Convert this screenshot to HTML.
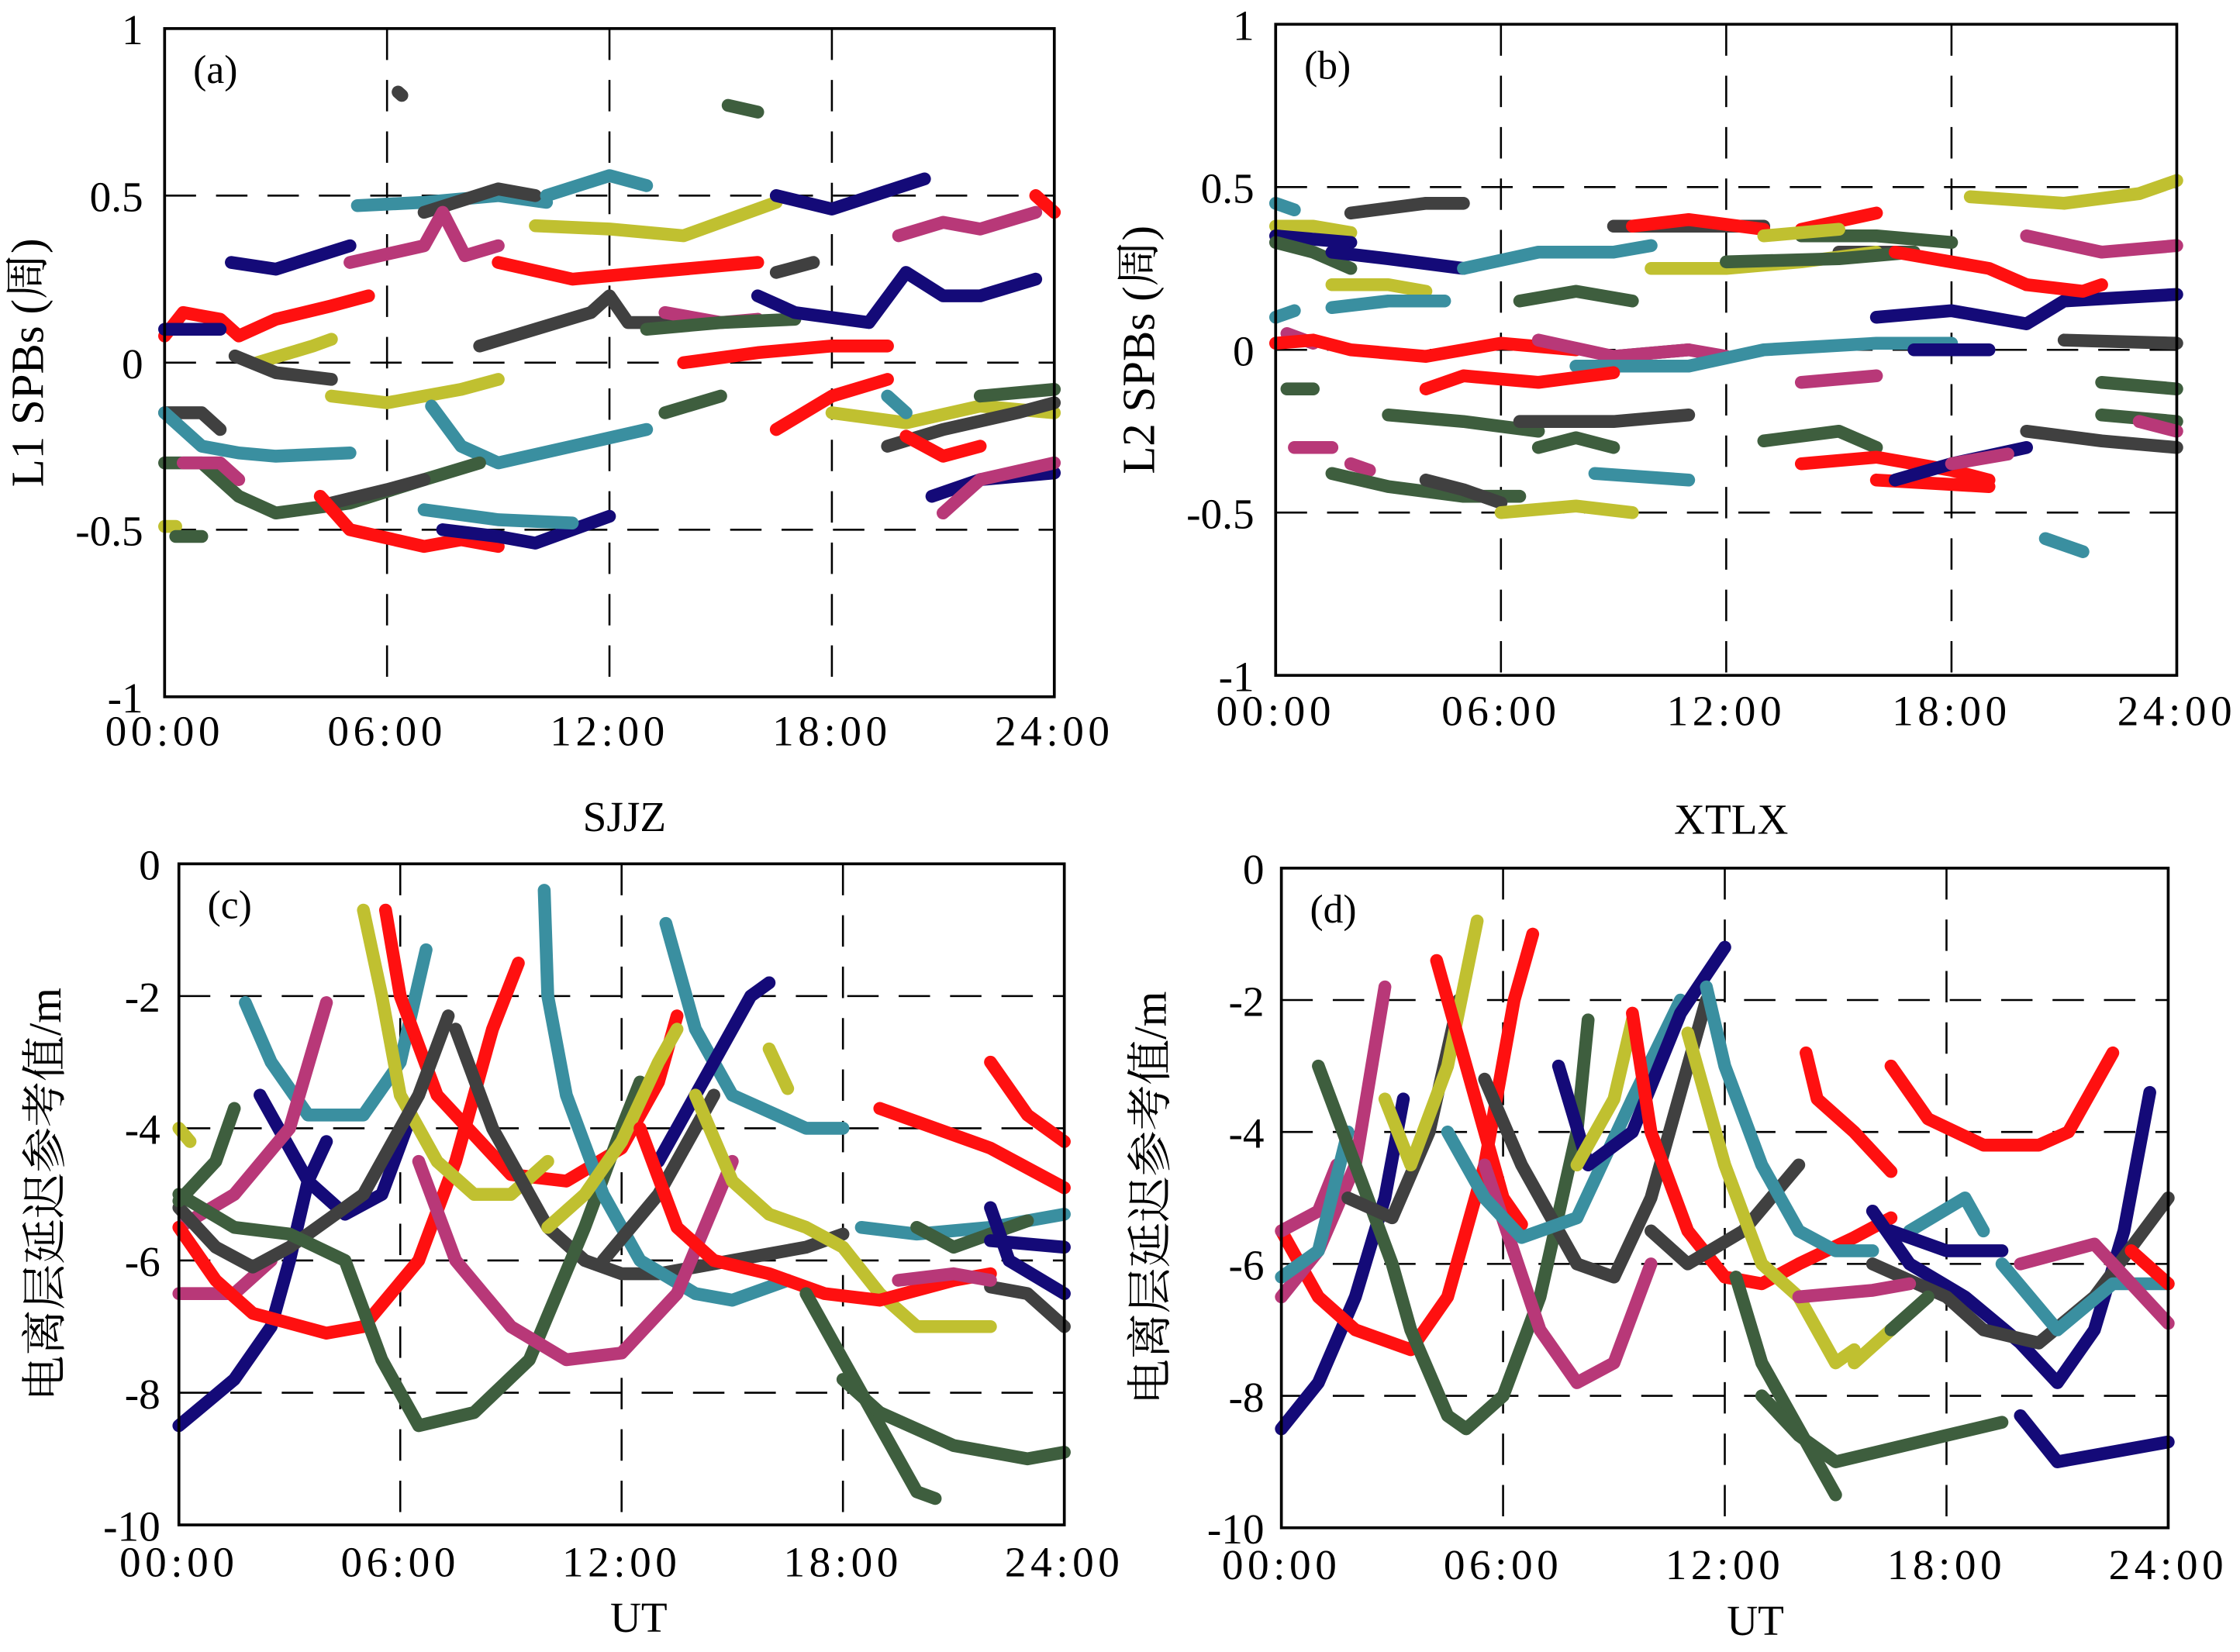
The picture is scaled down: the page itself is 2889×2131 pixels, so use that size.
<!DOCTYPE html>
<html><head><meta charset="utf-8"><style>
html,body{margin:0;padding:0;background:#fff}
svg{display:block}
text{font-family:"Liberation Serif","Noto Serif CJK SC",serif;fill:#000}
</style></head><body>
<svg id="fig" width="2889" height="2131" viewBox="0 0 1568 1157" xmlns="http://www.w3.org/2000/svg"></svg>
<script>
const C={n:'#140a78',r:'#ff1010',t:'#3a8fa0',y:'#c0c030',m:'#b83878',g:'#404040',e:'#3e5e3e'};
// Panel (a) L1 SPBs
const segHoursA=[[1.8,3,5],[5.2,7,9,10.3],[7,9,10],[10.3,12,13],[10,12,14,16.5],[15.2,16],[16.5,18,20.5],[19.8,21,22,23.5],[23.5,24],[5,7,7.5,8.1,9],[9,11,13,16],[16.5,17.5],[0,0.5,1.5,2,3,4.5,5.5],[0,1.5],[2.5,4,4.5],[1.9,3,4.5],[8.5,10,11.5,12,12.5,14],[13.5,15,16],[13,15,17],[16,17,19,20,21,22,23.5],[14,16,18,19.5],[16.5,18,19.5],[4.5,6,8,9],[13.5,15],[0,1,1.5],[0,1,2,3,5],[7.2,8,9,11,13],[0,1,2,3,5,7,8.5],[4.5,6,7],[0.5,1.5,2],[4.2,5,7,8,9],[7.5,9,10,12],[7,9,11],[0,0.3],[0.3,1],[18,20,22,24],[19.5,21,23,24],[20,21,22],[22,24],[20.7,22,24],[21,22,24],[19.5,20],[6.3,6.4]];
const segValsA=[[0.3,0.28,0.35],[0.47,0.48,0.5,0.48],[0.45,0.52,0.5],[0.5,0.56,0.53],[0.41,0.4,0.38,0.48],[0.77,0.75],[0.5,0.46,0.55],[0.38,0.42,0.4,0.45],[0.5,0.45],[0.3,0.35,0.45,0.32,0.35],[0.3,0.25,0.27,0.3],[0.27,0.3],[0.08,0.15,0.13,0.08,0.13,0.17,0.2],[0.1,0.1],[0,0.05,0.07],[0.02,-0.03,-0.05],[0.05,0.1,0.15,0.2,0.12,0.12],[0.15,0.12,0.13],[0.1,0.12,0.13],[0.2,0.15,0.12,0.27,0.2,0.2,0.25],[0,0.03,0.05,0.05],[-0.2,-0.1,-0.05],[-0.1,-0.12,-0.08,-0.05],[-0.15,-0.1],[-0.15,-0.15,-0.2],[-0.15,-0.25,-0.27,-0.28,-0.27],[-0.13,-0.25,-0.3,-0.25,-0.2],[-0.3,-0.3,-0.4,-0.45,-0.42,-0.35,-0.3],[-0.42,-0.38,-0.35],[-0.3,-0.3,-0.35],[-0.4,-0.5,-0.55,-0.53,-0.55],[-0.5,-0.52,-0.54,-0.46],[-0.44,-0.47,-0.48],[-0.49,-0.49],[-0.52,-0.52],[-0.15,-0.18,-0.13,-0.15],[-0.25,-0.2,-0.15,-0.12],[-0.22,-0.28,-0.25],[-0.1,-0.08],[-0.4,-0.35,-0.33],[-0.45,-0.35,-0.3],[-0.1,-0.15],[0.81,0.8]];
const segColA=['n','t','g','t','y','e','n','m','r','m','r','g','r','n','y','g','g','m','e','n','r','r','y','e','g','t','t','e','g','m','r','n','t','y','e','y','g','r','e','n','m','t','g'];
// Panel (b) L2 SPBs
const segHoursB=[[2,4,5],[0,0.5],[0,1,2],[0,2],[0,1,2],[1.5,3,5],[5,7,9,10],[9,12,13],[9.5,11,13],[14,16],[14,16,18],[15,17],[18.5,21,23,24],[20,22,24],[13,15],[10,12,14,16],[12,15,17],[16.5,19,20],[16,18,20,21,24],[20,21.5,22],[1.5,3,4],[1.5,3,4.5],[6.5,8,9.5],[0,0.5],[0.3,1],[0,1,2,4,6,8],[9,11],[7,9,11,12],[8,11,13,16,18],[4,5,7,9],[14,16],[17,19],[21,24],[22,24],[0.3,1],[3,5,7],[6.5,9,11],[7,8,9],[13,15,16],[8.5,11],[14,16,18,19],[16,19],[16.5,18,20],[18,19.5],[20,22,24],[22,24],[23,24],[0.5,1.5],[2,2.5],[1.5,3,5,6.5],[4,5,6],[6,8,9.5],[20.5,21.5]];
const segValsB=[[0.42,0.45,0.45],[0.45,0.43],[0.38,0.38,0.36],[0.35,0.33],[0.33,0.3,0.25],[0.3,0.28,0.25],[0.25,0.3,0.3,0.32],[0.38,0.38,0.38],[0.38,0.4,0.37],[0.37,0.42],[0.35,0.35,0.33],[0.3,0.3],[0.47,0.45,0.48,0.52],[0.35,0.3,0.32],[0.35,0.37],[0.25,0.25,0.27,0.3],[0.27,0.28,0.3],[0.3,0.25,0.2],[0.1,0.12,0.08,0.15,0.17],[0.2,0.18,0.2],[0.2,0.2,0.18],[0.13,0.15,0.15],[0.15,0.18,0.15],[0.1,0.12],[0.05,0.02],[0.02,0.03,0,-0.02,0.02,0],[-0.02,0],[0.03,-0.02,0,-0.02],[-0.05,-0.05,0,0.02,0.02],[-0.12,-0.08,-0.1,-0.07],[-0.1,-0.08],[0,0],[0.03,0.02],[-0.1,-0.12],[-0.12,-0.12],[-0.2,-0.22,-0.25],[-0.22,-0.22,-0.2],[-0.3,-0.27,-0.3],[-0.28,-0.25,-0.3],[-0.38,-0.4],[-0.35,-0.33,-0.37,-0.4],[-0.4,-0.42],[-0.4,-0.35,-0.3],[-0.35,-0.32],[-0.25,-0.28,-0.3],[-0.2,-0.22],[-0.22,-0.25],[-0.3,-0.3],[-0.35,-0.37],[-0.38,-0.42,-0.45,-0.45],[-0.4,-0.43,-0.47],[-0.5,-0.48,-0.5],[-0.58,-0.62]];
const segColB=['g','t','y','n','e','n','t','g','r','r','e','g','y','m','y','y','e','r','n','r','y','t','e','t','m','r','g','m','t','r','m','n','g','e','e','e','g','e','e','t','r','r','n','m','g','e','m','m','m','e','g','y','t'];
// Panel (c) SJJZ
const segHoursC=[[0,1.5,2.5,3,3.5,4],[2.2,3.5,4.5,5.5,6.3],[1.8,2.5,3.5,5,6,6.7],[0,1.5,3,4],[0,1.5,2.5],[0,1,2,4,5,6.5,7.5,8.5,9.2],[5.6,6,7,9,10.5,12,13,13.5],[5,5.5,6,7,8,9,10],[0,1,2,3,5,6.5,7.3],[7.5,8.5,10,11,12,13,15,17,18],[0,1,1.5],[0,1.5,3,4.5,5.5,6.5,8,9.5,11,12,12.5],[9.9,10,10.5,11.5,12.5,14,15,16.5],[13.2,14,15,17,18],[6.5,7.5,9,10.5,12,13.5,15],[10,11,12,13,13.5],[11.5,13,14.5],[13,14.5,15.5,16],[14,15,16,17,18,19,20,22],[12.5,13.5,14.5,16,17.5,19,21,22],[17,18,19,20,20.5],[18,19,21,23,24],[18.5,20,22,24],[20,21,22.5,23],[19,20,22,24],[22,23,24],[22,22.5,24],[22,24],[22,23,24],[19.5,21,22],[0,0.3],[16,16.5]];
const segValsC=[[-8.5,-7.8,-7,-6,-4.8,-4.2],[-3.5,-4.8,-5.3,-5,-3.8],[-2.1,-3,-3.8,-3.8,-3,-1.3],[-5.5,-5,-4,-2.1],[-6.5,-6.5,-6],[-5.5,-6.3,-6.8,-7.1,-7,-6,-4.5,-2.5,-1.5],[-0.7,-2,-3.5,-4.7,-4.8,-4.3,-3.3,-2.3],[-0.7,-2,-3.5,-4.5,-5,-5,-4.5],[-5.2,-5.8,-6.1,-5.8,-5,-3.5,-2.3],[-2.5,-4,-5.5,-6,-6.2,-6.2,-6,-5.8,-5.6],[-5.1,-4.5,-3.7],[-5,-5.5,-5.6,-6,-7.5,-8.5,-8.3,-7.5,-5.5,-4,-3.3],[-0.4,-2,-3.5,-5,-6,-6.5,-6.6,-6.3],[-0.9,-2.5,-3.5,-4,-4],[-4.5,-6,-7,-7.5,-7.4,-6.5,-4.5],[-5.5,-5,-4.2,-3,-2.5],[-6,-5,-3.5],[-4.5,-3,-2,-1.8],[-3.5,-4.8,-5.3,-5.5,-5.8,-6.5,-7,-7],[-4,-5.5,-6,-6.2,-6.5,-6.6,-6.3,-6.2],[-6.5,-7.5,-8.5,-9.5,-9.6],[-7.8,-8.3,-8.8,-9,-8.9],[-5.5,-5.6,-5.5,-5.3],[-5.5,-5.8,-5.5,-5.4],[-3.7,-3.9,-4.3,-4.9],[-3,-3.8,-4.2],[-5.2,-6,-6.5],[-5.7,-5.8],[-6.4,-6.5,-7],[-6.3,-6.2,-6.3],[-4,-4.2],[-2.8,-3.4]];
const segColC=['n','n','t','m','m','r','r','y','g','g','e','e','t','t','m','y','g','n','y','r','e','e','t','e','r','r','n','n','g','m','y','y'];
// Panel (d) XTLX
const segHoursD=[[0,1,2,2.8,3.3],[0,1,2,3.5,4.5,5.5,6.3,6.8],[0,1,2,2.8],[0,1,1.5],[0,1,1.8],[1,2,3,3.5,4.5,5,6,7,8,8.3],[1.8,3,4,4.8],[2.8,3.5,4.5,5.3],[4.2,5,6,6.5],[5.5,6.5,8,9,10,11,11.5],[5.5,7,8,9,10],[4.5,5.5,6.5,8,9.5,10.8],[7.5,8.3,9.5,10.8,12],[8,9,9.5],[9.5,10,11,12,13,14,15.5,16.5],[10,11,12.5,14],[11.5,12,13,14,15,16],[11,12,13,14,15,15.5],[15.5,16.5],[12.3,13,14,15],[13,14,15,16.5,18,19.5],[14.2,14.5,15.5,16.5],[16.5,17.5,19,20.5,21.3,22.5],[16,17,18.5,20,21,22,22.8,23.5],[20,21,22,24],[16,18,19,20.5,22,24],[17,18.5,19],[14,16,17],[16.5,18,19.5],[19.5,21,22.5,24],[20,22,24],[23,24],[16.5,17.5]];
const segValsD=[[-8.5,-7.8,-6.5,-5,-3.5],[-5.5,-6.5,-7,-7.3,-6.5,-4.5,-2,-1],[-6.5,-5.8,-4.5,-1.8],[-5.5,-5.2,-4.5],[-6.2,-5.8,-4],[-3,-4.5,-6,-7,-8.3,-8.5,-8,-6.5,-4,-2.3],[-5,-5.3,-4,-2],[-3.5,-4.5,-3,-0.8],[-1.4,-3,-5,-5.4],[-3.2,-4.5,-6,-6.2,-5,-3,-2],[-4.5,-7,-7.8,-7.5,-6],[-4,-5,-5.6,-5.3,-3.5,-2],[-3,-4.5,-4,-2.2,-1.2],[-4.5,-3.5,-2.3],[-2.2,-4,-5.5,-6.2,-6.3,-6,-5.6,-5.3],[-5.5,-6,-5.5,-4.5],[-1.8,-3,-4.5,-5.5,-5.8,-5.8],[-2.5,-4.5,-6,-6.5,-7.5,-7.3],[-7.5,-7],[-6.2,-7.5,-8.5,-9.5],[-8,-8.6,-9,-8.8,-8.6,-8.4],[-2.8,-3.5,-4,-4.6],[-3,-3.8,-4.2,-4.2,-4,-2.8],[-5.2,-6,-6.5,-7.2,-7.8,-7,-5.5,-3.4],[-8.3,-9,-8.9,-8.7],[-6,-6.5,-7,-7.2,-6.5,-5],[-5.5,-5,-5.5],[-6.5,-6.4,-6.3],[-5.5,-5.8,-5.8],[-6,-7,-6.3,-6.3],[-6,-5.7,-6.9],[-5.8,-6.3],[-7,-6.5]];
const segColD=['n','r','m','m','t','e','g','y','r','g','m','t','n','y','r','g','t','y','y','e','e','r','r','n','n','g','t','m','n','t','m','r','e'];

const svg=document.getElementById('fig');
const NS='http://www.w3.org/2000/svg';
function el(tag,attrs,parent){const e=document.createElementNS(NS,tag);for(const k in attrs)e.setAttribute(k,attrs[k]);(parent||svg).appendChild(e);return e;}
function txt(s,x,y,size,anchor,parent,rot){const t=el('text',{x:x,y:y,'font-size':size,'text-anchor':anchor||'middle'},parent);if(rot)t.setAttribute('transform',`rotate(-90 ${x} ${y})`);t.textContent=s;return t;}

function panel(id,L,T,R,B,ymin,ymax,yticks,ylabels,letter,ylab,ylabX,hours,vals,cols,ytxX,xtxY){
  const g=el('g',{});
  
  
  const sx=h=>L+(R-L)*h/24;
  const sy=v=>T+(B-T)*(ymax-v)/(ymax-ymin);
  [6,12,18].forEach(h=>{const l=el('line',{x1:sx(h),x2:sx(h),y1:T,y2:B,stroke:'#000','stroke-width':1.4,'stroke-dasharray':'22 14'},g);});
  yticks.forEach(v=>{if(v>ymin&&v<ymax){const l=el('line',{x1:L,x2:R,y1:sy(v),y2:sy(v),stroke:'#000','stroke-width':1.4,'stroke-dasharray':'22 14'},g);}});
  const sg=el('g',{},g);
  
  
  hours.forEach((hs,i)=>{
    const pts=hs.map((h,j)=>sx(h).toFixed(1)+','+sy(vals[i][j]).toFixed(1)).join(' ');
    const p=el('polyline',{points:pts,fill:'none',stroke:C[cols[i]],'stroke-width':9,'stroke-linecap':'round','stroke-linejoin':'round'},sg);
    
    
  });
  const fr=el('rect',{x:L,y:T,width:R-L,height:B-T,fill:'none',stroke:'#000','stroke-width':2},g);
  
  
  yticks.forEach((v,i)=>{const t=txt(ylabels[i],ytxX,sy(v)+11,30,'end',g);});
  ['00:00','06:00','12:00','18:00','24:00'].forEach((s,i)=>{const t=txt(s,sx(i*6),xtxY,30,'middle',g);t.setAttribute('letter-spacing','3');});
  const lt=txt(letter,L+20,T+38,28,'start',g);
  
  
  const yl=txt(ylab,ylabX,(T+B)/2,32,'middle',g,true);
  
  
}
panel('a',115,20,738,488,-1,1,[1,0.5,0,-0.5,-1],['1','0.5','0','-0.5','-1'],'(a)','L1 SPBs (周)',30,segHoursA,segValsA,segColA,100,522);
panel('b',893,17,1524,473,-1,1,[1,0.5,0,-0.5,-1],['1','0.5','0','-0.5','-1'],'(b)','L2 SPBs (周)',808,segHoursB,segValsB,segColB,878,508);
panel('c',125,605,745,1068,-10,0,[0,-2,-4,-6,-8,-10],['0','-2','-4','-6','-8','-10'],'(c)','电离层延迟参考值/m',42,segHoursC,segValsC,segColC,112,1104);
panel('d',897,608,1518,1070,-10,0,[0,-2,-4,-6,-8,-10],['0','-2','-4','-6','-8','-10'],'(d)','电离层延迟参考值/m',816,segHoursD,segValsD,segColD,885,1106);
const t1=txt('SJJZ',437,582,30);


const t2=txt('XTLX',1212,584,30);


const u1=txt('UT',447,1143,30);


const u2=txt('UT',1229,1145,30);


</script>
</body></html>
